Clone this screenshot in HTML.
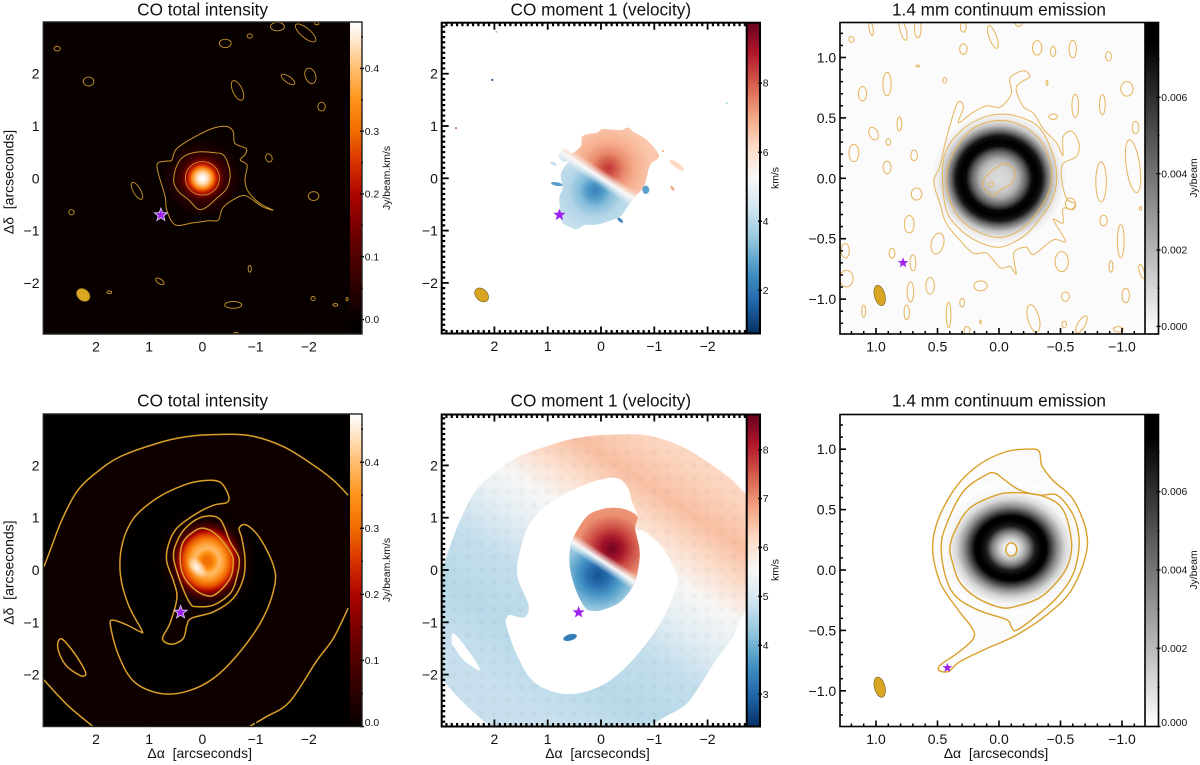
<!DOCTYPE html>
<html lang="en">
<head>
<meta charset="utf-8">
<title>CO and continuum emission maps</title>
<style>
  html, body { margin: 0; padding: 0; background: #fff; }
  #figure { display: block; width: 1200px; height: 765px; }
  text { font-family: "Liberation Sans", sans-serif; fill: #111; }
  .title { font-size: 17.2px; text-anchor: middle; }
  .axis-title { font-size: 14px; text-anchor: middle; }
  .bar-title { font-size: 10.4px; text-anchor: middle; }
  .tick { font-size: 14px; }
  .bar-tick { font-size: 10.4px; }
</style>
</head>
<body>
<svg id="figure" xmlns="http://www.w3.org/2000/svg" width="1200" height="765" viewBox="0 0 1200 765">
  <defs id="defs"></defs>
  <rect width="1200" height="765" fill="#fff"/>
  <g id="panels"></g>

  <text class="title" x="202.6" y="15.5">CO total intensity</text>
  <text class="title" x="600.8" y="15.5">CO moment 1 (velocity)</text>
  <text class="title" x="999" y="15.5">1.4 mm continuum emission</text>
  <text class="title" x="202.6" y="406.7">CO total intensity</text>
  <text class="title" x="600.8" y="406.7">CO moment 1 (velocity)</text>
  <text class="title" x="999" y="406.7">1.4 mm continuum emission</text>

  <text class="axis-title" transform="translate(13.5,182) rotate(-90)">Δδ&#160;&#160;[arcseconds]</text>
  <text class="axis-title" transform="translate(13.5,572.6) rotate(-90)">Δδ&#160;&#160;[arcseconds]</text>
  <text class="axis-title" x="199.7" y="758">Δα&#160;&#160;[arcseconds]</text>
  <text class="axis-title" x="597.5" y="758">Δα&#160;&#160;[arcseconds]</text>
  <text class="axis-title" x="996" y="758">Δα&#160;&#160;[arcseconds]</text>

  <text class="bar-title" transform="translate(390,178) rotate(-90)">Jy/beam.km/s</text>
  <text class="bar-title" transform="translate(390,570) rotate(-90)">Jy/beam.km/s</text>
  <text class="bar-title" transform="translate(778.5,178) rotate(-90)">km/s</text>
  <text class="bar-title" transform="translate(778.5,570) rotate(-90)">km/s</text>
  <text class="bar-title" transform="translate(1197,178) rotate(-90)">Jy/beam</text>
  <text class="bar-title" transform="translate(1197,570) rotate(-90)">Jy/beam</text>
</svg>

<script>
/* ---------- tick values and labels ---------- */
const arcTicks = [2, 1, 0, -1, -2];
const arcTickLabels = ["2", "1", "0", "\u22121", "\u22122"];
const mmTicks = [1, 0.5, 0, -0.5, -1];
const mmTickLabels = ["1.0", "0.5", "0.0", "\u22120.5", "\u22121.0"];
const fluxBarTicks = [0, 0.1, 0.2, 0.3, 0.4];
const fluxBarLabels = ["0.0", "0.1", "0.2", "0.3", "0.4"];
const velTopBarTicks = [2, 4, 6, 8];
const velTopBarLabels = ["2", "4", "6", "8"];
const velBottomBarTicks = [3, 4, 5, 6, 7, 8];
const velBottomBarLabels = ["3", "4", "5", "6", "7", "8"];
const contBarTicks = [0, 0.002, 0.004, 0.006];
const contBarLabels = ["0.000", "0.002", "0.004", "0.006"];

/* ---------- colour ranges (data units) ---------- */
const fluxRangeTop = [-0.023, 0.474];
const fluxRangeBottom = [0, 0.473];
const velRangeTop = [0.75, 9.75];
const velRangeBottom = [2.34, 8.72];
const contRangeTop = [-0.0002, 0.00796];
const contRangeBottom = [0, 0.00797];
const hotValues = [-0.023, 0, 0.05, 0.1, 0.15, 0.2, 0.25, 0.3, 0.35, 0.4, 0.45, 0.474];
const hotColors = ["#000000", "#060000", "#2a0000", "#500000", "#7c0000", "#ad0500", "#d83200", "#f06c00", "#ff9418", "#ffbe70", "#ffecd8", "#ffffff"];
const rdbuColors = ["#053061", "#2166ac", "#4393c3", "#92c5de", "#d1e5f0", "#f7f7f7", "#fddbc7", "#f4a582", "#d6604d", "#b2182b", "#67001f"];

/* ---------- top CO intensity (arcsec: ra, dec) ---------- */
const t1Outer = [[.84,.29],[.67,.33],[.575,.35],[.48,.57],[.11,.81],[-.21,.96],[-.46,.99],[-.58,.89],[-.61,.67],[-.82,.57],[-.80,.45],[-.71,.35],[-.84,.25],[-.80,-.03],[-.86,-.25],[-1.08,-.48],[-1.33,-.61],[-1.14,-.55],[-1.05,-.49],[-.80,-.33],[-.58,-.41],[-.38,-.57],[-.30,-.80],[-.14,-.81],[.17,-.85],[.51,-.89],[.67,-.61],[.70,-.35],[.83,.10]];
const t1Mid = [[.54,-.06],[.49,.22],[.36,.41],[.11,.50],[-.21,.49],[-.41,.43],[-.52,.10],[-.46,-.19],[-.27,-.38],[-.08,-.55],[.08,-.59],[.26,-.41],[.45,-.25]];
/* ra, dec, semi-x, semi-y, tilt in degrees */
const t1Islands = [[0,0,.32,.32,0],[2.73,2.48,.06,.045,0],[2.14,1.85,.10,.085,0],[-.43,2.58,.11,.08,0],[-.89,2.72,.05,.04,0],[-1.41,2.90,.13,.08,0],[-1.94,2.78,.24,.09,40],[-2.15,2.96,.04,.025,0],[-1.61,1.89,.15,.06,35],[-2.03,1.96,.15,.10,70],[-2.24,1.37,.07,.085,0],[-.66,1.68,.2,.09,65],[-1.25,.39,.06,.08,-20],[-2.09,-.34,.1,.085,0],[1.23,-.24,.18,.07,60],[2.46,-.65,.05,.05,0],[-.89,-1.73,.03,.065,0],[.8,-1.97,.09,.045,35],[1.75,-2.18,.045,.025,0],[-.58,-2.42,.16,.065,0],[-2.08,-2.30,.04,.04,0],[-2.5,-2.42,.045,.025,0],[-2.72,-2.31,.02,.03,0],[-.63,-2.97,.045,.025,0]];
const t1Beam = [2.24, -2.23, .14, .11, 40];
const t1Star = [.78, -.70];
const t1PeakCentre = [0, 0];
const t1ProfileRadius = [0, .06, .12, .2, .25, .31, .4, .55, .75];
const t1ProfileFlux = [.474, .46, .42, .33, .25, .17, .08, .035, .006];

/* ---------- top CO velocity ---------- */
const t2Mask = [[.78,.45],[.68,.56],[.55,.48],[.38,.61],[.34,.81],[.08,.87],[-.04,.94],[-.36,.92],[-.51,.97],[-.61,.89],[-.86,.73],[-1.09,.43],[-.92,.25],[-.83,-.10],[-.76,-.22],[-.64,-.35],[-.48,-.57],[-.36,-.73],[-.11,-.83],[.11,-.89],[.30,-.89],[.46,-.97],[.61,-.92],[.74,-.83],[.77,-.57],[.78,-.35],[.72,-.19],[.75,.10],[.58,.36],[.68,.31],[.78,.38]];
const t2ZeroPoint = [0, .01];
const t2RedPeak = [-.14, .19];
const t2BluePeak = [.11, -.24];
const t2ProfileRadius = [0, .15, .3, .5, .8];
const t2RedVelocity = [8.5, 8.0, 7.4, 6.9, 6.5];
const t2BlueVelocity = [2.2, 2.7, 3.3, 3.9, 4.2];
const t2BaseRed = 6.5;
const t2BaseBlue = 4.2;
/* ra, dec, semi-x, semi-y, tilt, velocity */
const t2Patches = [[-.84,-.22,.065,.08,0,2.8],[-1.34,-.19,.055,.025,50,7.0],[-1.42,.25,.16,.05,35,6.2],[-1.16,.52,.02,.02,0,7.0],[.89,.28,.065,.03,30,4.2],[.83,-.11,.11,.035,10,2.8],[-.36,-.80,.065,.03,40,2.2],[1.96,2.80,.02,.02,0,3.6],[2.04,1.88,.02,.02,0,1.2],[2.72,.96,.02,.02,0,7.8],[-2.36,1.44,.02,.02,0,3.8]];
const t2Beam = [2.24, -2.23, .15, .11, 45];
const t2Star = [.78, -.70];

/* ---------- top continuum ---------- */
const t3Outer = [[.53,-.03],[.48,.10],[.43,.32],[.34,.62],[.29,.59],[.33,.46],[.22,.54],[.10,.60],[-.01,.59],[-.10,.70],[-.09,.83],[-.20,.89],[-.25,.84],[-.17,.79],[-.14,.73],[-.20,.59],[-.28,.54],[-.36,.41],[-.47,.29],[-.52,.19],[-.52,.34],[-.59,.39],[-.65,.29],[-.63,.18],[-.52,.12],[-.51,-.01],[-.55,-.17],[-.62,-.21],[-.60,-.26],[-.52,-.25],[-.52,-.37],[-.44,-.34],[-.54,-.52],[-.44,-.51],[-.28,-.63],[-.22,-.57],[-.12,-.62],[-.14,-.79],[-.09,-.73],[-.01,-.74],[.10,-.62],[.21,-.62],[.32,-.51],[.43,-.37],[.48,-.21]];
const t3Mid = [[.46,.01],[.43,.23],[.29,.41],[.11,.51],[-.06,.53],[-.24,.48],[-.35,.39],[-.44,.19],[-.47,0],[-.43,-.18],[-.33,-.34],[-.20,-.48],[-.01,-.57],[.18,-.52],[.34,-.40],[.43,-.26]];
const t3Inner = [[.43,0],[.38,.19],[.24,.39],[.07,.47],[-.09,.47],[-.25,.40],[-.37,.26],[-.43,.04],[-.39,-.15],[-.28,-.32],[-.17,-.43],[-.01,-.49],[.18,-.44],[.32,-.33],[.40,-.18]];
const t3Cavity = [[.13,-.03],[.06,.06],[-.05,.12],[-.13,.06],[-.10,-.04],[-.01,-.10],[.05,-.14],[.11,-.10]];
const t3Islands = [[.065,-.05,.02,.02,0],[1.20,1.15,.02,.025,0],[1.04,1.24,.016,.06,-10],[.78,1.23,.025,.09,-15],[.66,1.24,.027,.077,0],[.29,1.25,.024,.04,0],[.05,1.17,.03,.1,-20],[-.16,1.28,.027,.022,0],[.29,1.07,.03,.044,0],[-.31,1.08,.038,.06,0],[-.44,1.05,.022,.041,0],[-.60,1.07,.03,.072,0],[-.89,1.01,.024,.039,0],[.66,.93,.014,.008,0],[.44,.81,.016,.022,0],[.91,.78,.033,.097,0],[1.11,.70,.033,.06,0],[-.39,.79,.008,.02,0],[-1.04,.74,.05,.06,0],[-.62,.60,.027,.097,0],[-.84,.61,.024,.083,0],[-.44,.51,.035,.022,0],[-1.11,.42,.027,.05,0],[.81,.45,.019,.058,0],[1.02,.37,.035,.055,-25],[.90,.30,.019,.028,0],[1.18,.21,.04,.072,0],[.69,.19,.027,.044,0],[.91,.09,.033,.052,0],[-.83,-.03,.043,.165,0],[-1.09,.10,.055,.22,-8],[.67,-.13,.043,.05,0],[-.58,-.21,.04,.047,0],[-.85,-.35,.03,.044,0],[-1.15,-.25,.01,.014,0],[.73,-.38,.04,.072,0],[-.99,-.52,.027,.138,0],[.50,-.54,.05,.088,15],[1.25,-.60,.033,.06,0],[.87,-.62,.024,.041,0],[-.51,-.69,.054,.083,0],[-.91,-.73,.016,.047,0],[.70,-.70,.024,.066,0],[-1.16,-.77,.019,.06,-15],[1.24,-.83,.054,.069,0],[.56,-.89,.035,.069,0],[.15,-.89,.054,.041,0],[.72,-.94,.027,.083,0],[-.54,-.98,.032,.039,0],[-1.03,-.97,.03,.06,0],[.30,-1.03,.019,.036,0],[.41,-1.13,.019,.105,0],[.75,-1.11,.022,.06,0],[1.10,-1.10,.016,.05,0],[-.28,-1.16,.046,.116,-15],[.15,-1.19,.006,.017,0],[-.53,-1.21,.019,.028,0],[-.67,-1.21,.03,.08,30],[-.97,-1.25,.04,.022,0],[.26,-1.26,.024,.033,0]];
const t3Beam = [.97, -.97, .043, .086, -15];
const t3Star = [.78, -.70];
const t3RingCentre = [0, 0];
const t3ProfileRadius = [0, .1, .16, .22, .27, .31, .35, .39, .44, .49, .55];
const t3ProfileFlux = [.0008, .0012, .0022, .0045, .0072, .008, .0068, .0042, .0016, .0004, -.00008];

/* ---------- bottom CO intensity ---------- */
const b4TopArc = [[2.98,.06],[2.86,.38],[2.64,.96],[2.36,1.50],[2.01,1.85],[1.54,2.17],[.79,2.44],[.29,2.55],[-.27,2.59],[-.89,2.57],[-1.52,2.36],[-2.08,2.01],[-2.46,1.72],[-2.74,1.43]];
const b4LowerLeftArc = [[2.98,-2.10],[2.54,-2.58],[2.06,-2.99]];
const b4LowerRightArc = [[-.89,-2.99],[-1.21,-2.80],[-1.64,-2.52],[-2.14,-1.75],[-2.46,-1.31],[-2.74,-.73]];
const b4Island = [[2.72,-1.40],[2.64,-1.32],[2.45,-1.53],[2.26,-1.82],[2.19,-1.99],[2.29,-2.02],[2.54,-1.85],[2.68,-1.62]];
const b4Spiral = [[-.46,1.29],[-.21,1.24],[.11,1.08],[.48,.80],[.64,.48],[.67,.16],[.54,-.22],[.48,-.54],[.61,-1.02],[.75,-1.31],[.58,-1.42],[.36,-1.31],[.29,-1.05],[.20,-.92],[-.21,-.80],[-.58,-.54],[-.77,-.16],[-.80,.22],[-.74,.61],[-.69,.80],[-.83,.86],[-1.08,.61],[-1.33,.10],[-1.36,-.29],[-1.14,-.92],[-.71,-1.56],[-.21,-2.07],[.29,-2.32],[.79,-2.36],[1.29,-2.13],[1.58,-1.62],[1.73,-1.05],[1.67,-.96],[1.42,-1.05],[1.17,-1.18],[1.14,-1.15],[1.39,-.67],[1.54,-.10],[1.51,.48],[1.29,.99],[.86,1.37],[.36,1.62],[-.02,1.71],[-.33,1.68],[-.49,1.43]];
const b4Mid = [[.54,.22],[.48,.54],[.29,.83],[-.02,1.02],[-.33,.97],[-.52,.54],[-.69,.22],[-.64,-.16],[-.52,-.45],[-.21,-.67],[.11,-.70],[.23,-.64],[.39,-.29]];
const b4Inner = [[.42,.22],[.36,.54],[.17,.73],[-.02,.80],[-.27,.67],[-.52,.35],[-.58,.16],[-.52,-.16],[-.27,-.45],[-.08,-.49],[.17,-.35],[.36,-.10]];
const b4Star = [.41, -.81];
const b4RingCentre = [-.09, .17];
const b4ProfileRadius = [0, .08, .15, .22, .3, .38, .45, .52, .6, .7, .8, .9];
const b4ProfileFlux = [.30, .31, .35, .395, .37, .32, .27, .2, .1, .03, .008, .003];
const b4HighlightCentre = [.1, .05];
const b4HaloFlux = .012;

/* ---------- bottom CO velocity ---------- */
const b5Outer = [[3.2,.06],[2.98,.06],[2.86,.38],[2.64,.96],[2.36,1.50],[2.01,1.85],[1.54,2.17],[.79,2.44],[.29,2.55],[-.27,2.59],[-.89,2.57],[-1.52,2.36],[-2.08,2.01],[-2.46,1.72],[-2.74,1.43],[-3.1,1.1],[-3.1,-.5],[-2.74,-.73],[-2.46,-1.31],[-2.14,-1.75],[-1.64,-2.52],[-1.21,-2.80],[-.89,-2.99],[-.5,-3.2],[1.6,-3.2],[2.06,-2.99],[2.54,-2.58],[2.98,-2.10],[3.2,-1.9]];
const b5Hole = [[-.33,1.75],[-.51,1.56],[-.58,1.31],[-.68,1.04],[-.64,.80],[-.83,.73],[-1.17,.41],[-1.39,-.03],[-1.42,-.29],[-1.17,-.92],[-.73,-1.56],[-.23,-2.07],[.27,-2.32],[.77,-2.36],[1.27,-2.13],[1.58,-1.62],[1.78,-1.05],[1.77,-.92],[1.71,-.86],[1.44,-.90],[1.36,-.67],[1.57,-.10],[1.49,.48],[1.27,.99],[.83,1.37],[.33,1.62],[-.04,1.74]];
const b5SmallHole = [[2.8,-1.40],[2.77,-1.21],[2.52,-1.50],[2.27,-1.91],[2.55,-1.75],[2.74,-1.50]];
const b5Mask = [[-.23,1.19],[-.48,1.15],[-.68,1.02],[-.64,.80],[-.72,.41],[-.71,.10],[-.61,-.29],[-.36,-.61],[-.04,-.76],[.18,-.78],[.31,-.70],[.46,-.41],[.57,-.03],[.59,.29],[.52,.61],[.27,1.02],[.02,1.15]];
const b5ZeroPoint = [-.04, .16];
const b5RedPeak = [-.2, .41];
const b5BluePeak = [.05, -.1];
const b5ProfileRadius = [0, .2, .4, .65, .9];
const b5RedVelocity = [8.65, 8.2, 7.6, 7.0, 6.9];
const b5BlueVelocity = [2.75, 3.1, 3.7, 4.3, 4.4];
const b5BaseRed = 6.9;
const b5BaseBlue = 4.4;
const b5OuterCentre = [.02, .76];
const b5OuterDistance = [-3.5, -2.5, -1.5, -.6, 0, .6, 1.2, 1.9, 2.6];
const b5OuterVelocity = [4.8, 4.65, 4.75, 5.25, 5.55, 6.1, 6.5, 6.25, 6.1];
const b5Patch = [.58, -1.29, .13, .06, -15, 3.3];
const b5Star = [.42, -.81];
const b5GridSpacing = .25;

/* ---------- bottom continuum ---------- */
const b6Outer = [[.54,.18],[.49,.43],[.34,.70],[.15,.88],[-.06,.98],[-.22,1.00],[-.32,.99],[-.34,.91],[-.35,.86],[-.44,.74],[-.60,.59],[-.71,.32],[-.70,.10],[-.58,-.18],[-.39,-.37],[-.14,-.54],[.10,-.65],[.32,-.76],[.41,-.84],[.49,-.83],[.47,-.78],[.34,-.69],[.21,-.57],[.22,-.48],[.34,-.32],[.48,-.10]];
const b6Mid = [[.47,.18],[.43,.37],[.29,.65],[.10,.79],[.03,.80],[-.04,.75],[-.17,.66],[-.33,.62],[-.47,.62],[-.59,.48],[-.64,.34],[-.65,.18],[-.60,-.04],[-.47,-.23],[-.28,-.40],[-.14,-.50],[-.10,-.47],[-.06,-.41],[.15,-.34],[.34,-.23],[.43,-.07]];
const b6Inner = [[.40,.18],[.36,.32],[.24,.51],[.02,.62],[-.14,.64],[-.36,.61],[-.52,.50],[-.59,.23],[-.56,.04],[-.47,-.10],[-.33,-.23],[-.14,-.30],[-.01,-.31],[.18,-.23],[.32,-.10],[.38,.07]];
const b6Cavity = [-.10, .17, .045, .055, 0];
const b6Beam = [.97, -.97, .043, .086, -15];
const b6Star = [.42, -.81];
const b6RingCentre = [-.095, .18];
const b6ProfileRadius = [0, .05, .1, .15, .2, .25, .29, .33, .38, .44, .5, .6];
const b6ProfileFlux = [.0001, .0004, .0018, .0038, .0066, .008, .0075, .0055, .0032, .0012, .0003, 0];

/* ---------- helpers ---------- */
const NS = "http://www.w3.org/2000/svg";
const defs = document.getElementById("defs");
const panelsRoot = document.getElementById("panels");
let uid = 0;

function make(parent, tag, name, attrs, text) {
  const el = document.createElementNS(NS, tag);
  
  
  for (const k in attrs) el.setAttribute(k, attrs[k]);
  if (text !== undefined) el.textContent = text;
  parent.appendChild(el);
  return el;
}
function hexRgb(h) { return [parseInt(h.slice(1,3),16), parseInt(h.slice(3,5),16), parseInt(h.slice(5,7),16)]; }
function mix(a, b, t) {
  const A = hexRgb(a), B = hexRgb(b);
  return "rgb(" + A.map((v,i) => Math.round(v + (B[i]-v)*t)).join(",") + ")";
}
function hot(v) {
  if (v <= hotValues[0]) return hotColors[0];
  for (let i = 1; i < hotValues.length; i++) {
    if (v <= hotValues[i]) return mix(hotColors[i-1], hotColors[i], (v-hotValues[i-1])/(hotValues[i]-hotValues[i-1]));
  }
  return hotColors[hotColors.length-1];
}
function rdbu(range) {
  return function (v) {
    const f = Math.max(0, Math.min(1, (v-range[0])/(range[1]-range[0]))) * (rdbuColors.length-1);
    const i = Math.min(rdbuColors.length-2, Math.floor(f));
    return mix(rdbuColors[i], rdbuColors[i+1], f-i);
  };
}
function gray(range) {
  return function (v) {
    const f = Math.max(0, Math.min(1, (v-range[0])/(0.0074-range[0])));
    const g = Math.round(255*(1-f));
    return "rgb(" + g + "," + g + "," + g + ")";
  };
}
function smoothPath(pts, closed) {
  const n = pts.length, P = i => closed ? pts[(i+n)%n] : pts[Math.max(0,Math.min(n-1,i))];
  let d = "M" + pts[0][0].toFixed(2) + " " + pts[0][1].toFixed(2);
  const last = closed ? n : n-1;
  for (let i = 0; i < last; i++) {
    const p0=P(i-1), p1=P(i), p2=P(i+1), p3=P(i+2);
    d += "C" + (p1[0]+(p2[0]-p0[0])/6).toFixed(2) + " " + (p1[1]+(p2[1]-p0[1])/6).toFixed(2) + " " +
         (p2[0]-(p3[0]-p1[0])/6).toFixed(2) + " " + (p2[1]-(p3[1]-p1[1])/6).toFixed(2) + " " +
         p2[0].toFixed(2) + " " + p2[1].toFixed(2);
  }
  return d + (closed ? "Z" : "");
}
function makePanel(cfg) {
  const p = Object.assign({}, cfg);
  p.x = ra => p.cx - ra*p.sx;
  p.y = dec => p.cy - dec*p.sy;
  p.path = (pts, closed) => smoothPath(pts.map(q => [p.x(q[0]), p.y(q[1])]), closed);
  p.root = make(panelsRoot, "g", p.name, {});
  const clipId = "clip" + (++uid);
  const cp = make(defs, "clipPath", p.name + "-clip", {id: clipId});
  make(cp, "rect", p.name + "-clip-area", {x: p.L, y: p.T, width: p.barL-p.L, height: p.B-p.T});
  p.image = make(p.root, "g", p.name + "-image", {"clip-path": "url(#" + clipId + ")"});
  make(p.image, "rect", p.name + "-image-background", {x: p.L, y: p.T, width: p.barL-p.L, height: p.B-p.T, fill: p.bg});
  return p;
}
function radialBlob(p, parent, name, centre, radii, values, color, stretchY, rot) {
  const id = "rg" + (++uid), maxR = radii[radii.length-1];
  const g = make(defs, "radialGradient", name + "-gradient", {id: id});
  radii.forEach((r, i) => {
    make(g, "stop", name + "-stop", {offset: r/maxR, "stop-color": color(values[i])});
  });
  const sy = stretchY || 1, cx = p.x(centre[0]), cy = p.y(centre[1]);
  return make(parent, "ellipse", name, {cx: cx, cy: cy, rx: maxR*p.sx, ry: maxR*p.sy*sy,
    fill: "url(#" + id + ")", transform: "rotate(" + (rot||0) + " " + cx + " " + cy + ")"});
}
function fadeBlob(p, parent, name, centre, radius, colorValue, peak, stretchY, rot) {
  const id = "rg" + (++uid);
  const g = make(defs, "radialGradient", name + "-gradient", {id: id});
  make(g, "stop", name + "-stop", {offset: 0, "stop-color": colorValue, "stop-opacity": peak});
  make(g, "stop", name + "-stop", {offset: .5, "stop-color": colorValue, "stop-opacity": peak*.6});
  make(g, "stop", name + "-stop", {offset: 1, "stop-color": colorValue, "stop-opacity": 0});
  const cx = p.x(centre[0]), cy = p.y(centre[1]);
  return make(parent, "ellipse", name, {cx: cx, cy: cy, rx: radius*p.sx, ry: radius*p.sy*stretchY,
    fill: "url(#" + id + ")", transform: "rotate(" + rot + " " + cx + " " + cy + ")"});
}
function contour(p, name, pts, closed, stroke, width, fill) {
  return make(p.image, "path", name, {d: p.path(pts, closed), fill: fill || "none", stroke: stroke, "stroke-width": width, "stroke-linejoin": "round"});
}
function ellipseMark(p, parent, name, e, attrs) {
  const cx = p.x(e[0]), cy = p.y(e[1]);
  return make(parent, "ellipse", name, Object.assign({cx: cx, cy: cy, rx: e[2]*p.sx, ry: e[3]*p.sy,
    transform: "rotate(" + e[4] + " " + cx + " " + cy + ")"}, attrs));
}
function star(p, pos, r, stroke) {
  const pts = [];
  for (let i = 0; i < 10; i++) {
    const a = -Math.PI/2 + i*Math.PI/5, R = i%2 ? r*0.42 : r;
    pts.push((p.x(pos[0]) + R*Math.cos(a)).toFixed(2) + "," + (p.y(pos[1]) + R*Math.sin(a)).toFixed(2));
  }
  make(p.image, "polygon", p.name + "-star-marker", {points: pts.join(" "), fill: "#a020f0", stroke: stroke || "none", "stroke-width": stroke ? .8 : 0});
}
function beam(p, e) {
  ellipseMark(p, p.image, p.name + "-beam", e, {fill: "#daa520", stroke: "#6e5a28", "stroke-width": .6});
}
function dipole(p, mask, zero, redPeak, bluePeak, radii, redV, blueV, baseRed, baseBlue, color, tiltDeg, band) {
  const clipId = "clip" + (++uid);
  const cp = make(defs, "clipPath", p.name + "-velocity-mask", {id: clipId});
  make(cp, "path", p.name + "-velocity-mask-shape", {d: p.path(mask, true)});
  const g = make(p.image, "g", p.name + "-velocity-field", {"clip-path": "url(#" + clipId + ")"});
  const t = tiltDeg*Math.PI/180, zx = p.x(zero[0]), zy = p.y(zero[1]), L = 400;
  const dx = Math.cos(t), dy = Math.sin(t), nx = Math.sin(t), ny = -Math.cos(t);
  [[1, "red", redPeak, redV, baseRed], [-1, "blue", bluePeak, blueV, baseBlue]].forEach(side => {
    const id = "clip" + (++uid);
    const hc = make(defs, "clipPath", p.name + "-" + side[1] + "-half", {id: id});
    const s = side[0];
    const a = [zx-dx*L, zy-dy*L], b = [zx+dx*L, zy+dy*L];
    make(hc, "polygon", p.name + "-" + side[1] + "-half-shape", {points:
      a.join(",") + " " + b.join(",") + " " + (b[0]+s*nx*L) + "," + (b[1]+s*ny*L) + " " + (a[0]+s*nx*L) + "," + (a[1]+s*ny*L)});
    const h = make(g, "g", p.name + "-" + side[1] + "-lobe", {"clip-path": "url(#" + id + ")"});
    make(h, "rect", p.name + "-" + side[1] + "-base", {x: p.L, y: p.T, width: p.barL-p.L, height: p.B-p.T, fill: color(side[4])});
    radialBlob(p, h, p.name + "-" + side[1] + "-peak", side[2], radii, side[3], color);
  });
  const id = "lg" + (++uid);
  const lg = make(defs, "linearGradient", p.name + "-zero-band-gradient", {id: id, gradientUnits: "userSpaceOnUse",
    x1: zx-nx*band, y1: zy-ny*band, x2: zx+nx*band, y2: zy+ny*band});
  [[0,0],[.5,1],[1,0]].forEach(st => make(lg, "stop", "zero-band-stop", {offset: st[0], "stop-color": "#f8f8f8", "stop-opacity": st[1]}));
  make(g, "rect", p.name + "-zero-velocity-band", {x: p.L, y: p.T, width: p.barL-p.L, height: p.B-p.T, fill: "url(#" + id + ")"});
}
function axes(p, ticks, labels, minorPerMajor, minorWidth, majorWidth, majorLen, minorLen, topTicks) {
  const g = make(p.root, "g", p.name + "-axes", {});
  const step = Math.abs(ticks[0]-ticks[1]) / minorPerMajor;
  const line = (n, x1, y1, x2, y2, w) => make(g, "line", n, {x1, y1, x2, y2, stroke: "#000", "stroke-width": w});
  const maxRa = (p.cx - p.L)/p.sx, minRa = (p.cx - p.barL)/p.sx, maxDec = (p.cy - p.T)/p.sy, minDec = (p.cy - p.B)/p.sy;
  for (let k = Math.ceil(minRa/step); k*step <= maxRa; k++) {
    const major = k % minorPerMajor === 0, X = p.x(k*step), len = major ? majorLen : minorLen, w = major ? majorWidth : minorWidth;
    if (len > 0) line(p.name + (major ? "-x-major-tick" : "-x-minor-tick"), X, p.B, X, p.B-len, w);
    if (len > 0 && topTicks) line(p.name + "-x-top-tick", X, p.T, X, p.T+len, w);
  }
  for (let k = Math.ceil(minDec/step); k*step <= maxDec; k++) {
    const major = k % minorPerMajor === 0, Y = p.y(k*step), len = major ? majorLen : minorLen, w = major ? majorWidth : minorWidth;
    if (len > 0) line(p.name + (major ? "-y-major-tick" : "-y-minor-tick"), p.L, Y, p.L+len, Y, w);
  }
  ticks.forEach((t, i) => {
    make(g, "text", p.name + "-x-tick-label", {class: "tick", x: p.x(t), y: p.B+17.5, "text-anchor": "middle"}, labels[i]);
    make(g, "text", p.name + "-y-tick-label", {class: "tick", x: p.L-3.8, y: p.y(t)+5, "text-anchor": "end"}, labels[i]);
  });
}
function colorbar(p, range, color, ticks, labels, labelX) {
  const g = make(p.root, "g", p.name + "-colorbar", {});
  const id = "lg" + (++uid);
  const lg = make(defs, "linearGradient", p.name + "-colorbar-gradient", {id: id, x1: 0, y1: 1, x2: 0, y2: 0});
  for (let i = 0; i <= 48; i++) {
    make(lg, "stop", "colorbar-stop", {offset: i/48, "stop-color": color(range[0] + (range[1]-range[0])*i/48)});
  }
  make(g, "rect", p.name + "-colorbar-fill", {x: p.barL, y: p.T, width: p.R-p.barL, height: p.B-p.T, fill: "url(#" + id + ")"});
  const vy = v => p.B - (v-range[0])/(range[1]-range[0])*(p.B-p.T);
  const step = ticks[1]-ticks[0];
  for (let k = Math.ceil((range[0]-ticks[0])/(step/2)); ticks[0]+k*step/2 <= range[1]; k++) {
    const major = k % 2 === 0, Y = vy(ticks[0]+k*step/2);
    make(g, "line", p.name + (major ? "-colorbar-major-tick" : "-colorbar-minor-tick"), {x1: p.R-(major?2:1), y1: Y, x2: p.R+(major?2:1), y2: Y, stroke: "#000", "stroke-width": 1.4});
  }
  ticks.forEach((t, i) => {
    make(g, "text", p.name + "-colorbar-tick-label", {class: "bar-tick", x: labelX, y: Math.min(vy(t)+3.6, p.B-0.5)}, labels[i]);
  });
}
function frame(p, color, width, sepColor) {
  make(p.root, "line", p.name + "-colorbar-separator", {x1: p.barL, y1: p.T, x2: p.barL, y2: p.B, stroke: sepColor, "stroke-width": width});
  make(p.root, "rect", p.name + "-frame", {x: p.L, y: p.T, width: p.R-p.L, height: p.B-p.T, fill: "none", stroke: color, "stroke-width": width});
}

/* ---------- panel 1: top CO intensity ---------- */
const GOLD = "#d9a02a", GOLD_LIGHT = "#e6b45a";
(function () {
  const p = makePanel({name: "panel-top-co-intensity", L: 43.3, R: 362, T: 22, B: 334, barL: 350, cx: 202.4, sx: 53.2, cy: 178.3, sy: 52.3, bg: hot(0.004)});
  radialBlob(p, p.image, p.name + "-emission-peak", t1PeakCentre, t1ProfileRadius, t1ProfileFlux, hot);
  contour(p, p.name + "-contour-outer", t1Outer, true, "#c8962a", 1);
  contour(p, p.name + "-contour-middle", t1Mid, true, "#c8962a", 1);
  t1Islands.forEach(e => ellipseMark(p, p.image, p.name + "-contour-island", e, {fill: "none", stroke: "#c8962a", "stroke-width": .9}));
  beam(p, t1Beam);
  star(p, t1Star, 6.8, "#e8d8ff");
  axes(p, arcTicks, arcTickLabels, 10, 1, 1.2, 6, 0, true);
  colorbar(p, fluxRangeTop, hot, fluxBarTicks, fluxBarLabels, 364.7);
  frame(p, "#222", 1.4, "none");
})();

/* ---------- panel 2: top CO velocity ---------- */
(function () {
  const p = makePanel({name: "panel-top-co-velocity", L: 441.7, R: 760, T: 22.7, B: 333.5, barL: 746.7, cx: 601, sx: 53.3, cy: 178.3, sy: 52.3, bg: "#ffffff"});
  const c = rdbu(velRangeTop);
  dipole(p, t2Mask, t2ZeroPoint, t2RedPeak, t2BluePeak, t2ProfileRadius, t2RedVelocity, t2BlueVelocity, t2BaseRed, t2BaseBlue, c, 33, 8);
  t2Patches.forEach(e => ellipseMark(p, p.image, p.name + "-velocity-patch", e, {fill: c(e[5])}));
  beam(p, t2Beam);
  star(p, t2Star, 6.4);
  axes(p, arcTicks, arcTickLabels, 10, 2.2, 1.8, 7, 3.5, true);
  colorbar(p, velRangeTop, c, velTopBarTicks, velTopBarLabels, 762.7);
  frame(p, "#000", 2, "#000");
})();

/* ---------- panel 3: top continuum ---------- */
(function () {
  const p = makePanel({name: "panel-top-continuum", L: 840, R: 1158.5, T: 22.5, B: 334, barL: 1145, cx: 999, sx: 123, cy: 178.3, sy: 120.8, bg: "#fbfbfb"});
  const c = gray(contRangeTop);
  radialBlob(p, p.image, p.name + "-continuum-ring", t3RingCentre, t3ProfileRadius, t3ProfileFlux, c);
  contour(p, p.name + "-contour-outer", t3Outer, true, GOLD_LIGHT, 1);
  contour(p, p.name + "-contour-middle", t3Mid, true, GOLD_LIGHT, 1);
  contour(p, p.name + "-contour-inner", t3Inner, true, GOLD_LIGHT, 1);
  contour(p, p.name + "-contour-cavity", t3Cavity, true, GOLD_LIGHT, 1);
  t3Islands.forEach(e => ellipseMark(p, p.image, p.name + "-contour-island", e, {fill: "none", stroke: GOLD_LIGHT, "stroke-width": 1}));
  beam(p, t3Beam);
  star(p, t3Star, 5.5);
  axes(p, mmTicks, mmTickLabels, 5, 1.5, 1.6, 6, 3, false);
  colorbar(p, contRangeTop, c, contBarTicks, contBarLabels, 1161.3);
  frame(p, "#000", 1.6, "#000");
})();

/* ---------- panel 4: bottom CO intensity ---------- */
(function () {
  const p = makePanel({name: "panel-bottom-co-intensity", L: 43.3, R: 362, T: 414, B: 726.5, barL: 350, cx: 202.4, sx: 53.2, cy: 570, sy: 52.3, bg: "#030000"});
  make(p.image, "path", p.name + "-outer-halo", {d: p.path(b5Outer, true), fill: hot(b4HaloFlux)});
  make(p.image, "path", p.name + "-inner-gap", {d: p.path(b4Spiral, true), fill: "#030000"});
  radialBlob(p, p.image, p.name + "-emission-ring", b4RingCentre, b4ProfileRadius, b4ProfileFlux, hot, 1.1, 0);
  fadeBlob(p, p.image, p.name + "-emission-highlight", b4HighlightCentre, .24, "#ffffff", .85, .62, 45);
  contour(p, p.name + "-contour-top-arc", b4TopArc, false, GOLD, 1.5);
  contour(p, p.name + "-contour-lower-left-arc", b4LowerLeftArc, false, GOLD, 1.5);
  contour(p, p.name + "-contour-lower-right-arc", b4LowerRightArc, false, GOLD, 1.5);
  contour(p, p.name + "-contour-island", b4Island, true, GOLD, 1.5);
  contour(p, p.name + "-contour-spiral", b4Spiral, true, GOLD, 1.5);
  contour(p, p.name + "-contour-middle", b4Mid, true, GOLD, 1.5);
  contour(p, p.name + "-contour-inner", b4Inner, true, GOLD, 1.5);
  star(p, b4Star, 6.8, "#e8d8ff");
  axes(p, arcTicks, arcTickLabels, 10, 1, 1.2, 6, 0, true);
  colorbar(p, fluxRangeBottom, hot, fluxBarTicks, fluxBarLabels, 364.7);
  frame(p, "#222", 1.4, "none");
})();

/* ---------- panel 5: bottom CO velocity ---------- */
(function () {
  const p = makePanel({name: "panel-bottom-co-velocity", L: 441.7, R: 760, T: 414.5, B: 726.5, barL: 746.7, cx: 601, sx: 53.3, cy: 570, sy: 52.3, bg: "#ffffff"});
  const c = rdbu(velRangeBottom);
  const tilt = 33*Math.PI/180, nx = Math.sin(tilt), ny = -Math.cos(tilt);
  const ox = p.x(b5OuterCentre[0]), oy = p.y(b5OuterCentre[1]), dMin = b5OuterDistance[0], dMax = b5OuterDistance[b5OuterDistance.length-1];
  const id = "lg" + (++uid);
  const lg = make(defs, "linearGradient", p.name + "-outer-velocity-gradient", {id: id, gradientUnits: "userSpaceOnUse",
    x1: ox + nx*dMin*p.sx, y1: oy + ny*dMin*p.sy, x2: ox + nx*dMax*p.sx, y2: oy + ny*dMax*p.sy});
  b5OuterDistance.forEach((d, i) => {
    make(lg, "stop", "outer-velocity-stop", {offset: (d-dMin)/(dMax-dMin), "stop-color": c(b5OuterVelocity[i])});
  });
  make(p.image, "path", p.name + "-outer-velocity-field", {d: p.path(b5Outer, true), fill: "url(#" + id + ")"});
  const patId = "pat" + (++uid), gw = b5GridSpacing*p.sx, gh = b5GridSpacing*p.sy;
  const pat = make(defs, "pattern", p.name + "-beam-grid-pattern", {id: patId, patternUnits: "userSpaceOnUse", x: p.cx-gw/2, y: p.cy-gh/2, width: gw, height: gh});
  make(pat, "circle", "beam-grid-halo", {cx: gw/2, cy: gh/2, r: 4, fill: "rgba(40,50,90,.015)"});
  make(pat, "circle", "beam-grid-dot", {cx: gw/2, cy: gh/2, r: 2, fill: "rgba(40,50,90,.025)"});
  make(p.image, "path", p.name + "-beam-grid", {d: p.path(b5Outer, true), fill: "url(#" + patId + ")"});
  make(p.image, "path", p.name + "-central-hole", {d: p.path(b5Hole, true), fill: "#fff"});
  make(p.image, "path", p.name + "-small-hole", {d: p.path(b5SmallHole, true), fill: "#fff"});
  dipole(p, b5Mask, b5ZeroPoint, b5RedPeak, b5BluePeak, b5ProfileRadius, b5RedVelocity, b5BlueVelocity, b5BaseRed, b5BaseBlue, c, 33, 8);
  ellipseMark(p, p.image, p.name + "-velocity-patch", b5Patch, {fill: c(b5Patch[5])});
  star(p, b5Star, 6.4);
  axes(p, arcTicks, arcTickLabels, 10, 2.2, 1.8, 7, 3.5, true);
  colorbar(p, velRangeBottom, c, velBottomBarTicks, velBottomBarLabels, 762.7);
  frame(p, "#000", 2, "#000");
})();

/* ---------- panel 6: bottom continuum ---------- */
(function () {
  const p = makePanel({name: "panel-bottom-continuum", L: 840, R: 1158.5, T: 414.5, B: 726.5, barL: 1145, cx: 999, sx: 123, cy: 570, sy: 120.8, bg: "#ffffff"});
  const c = gray(contRangeBottom);
  make(p.image, "path", p.name + "-faint-emission", {d: p.path(b6Outer, true), fill: "#fbfbfb"});
  radialBlob(p, p.image, p.name + "-continuum-ring", b6RingCentre, b6ProfileRadius, b6ProfileFlux, c, .92, 0);
  contour(p, p.name + "-contour-outer", b6Outer, true, GOLD, 1.4);
  contour(p, p.name + "-contour-middle", b6Mid, true, GOLD, 1.4);
  contour(p, p.name + "-contour-inner", b6Inner, true, GOLD, 1.4);
  ellipseMark(p, p.image, p.name + "-contour-cavity", b6Cavity, {fill: "none", stroke: GOLD, "stroke-width": 1.4});
  beam(p, b6Beam);
  star(p, b6Star, 5);
  axes(p, mmTicks, mmTickLabels, 5, 1.5, 1.6, 6, 3, false);
  colorbar(p, contRangeBottom, c, contBarTicks, contBarLabels, 1161.3);
  frame(p, "#000", 1.6, "#000");
})();
</script>
</body>
</html>
